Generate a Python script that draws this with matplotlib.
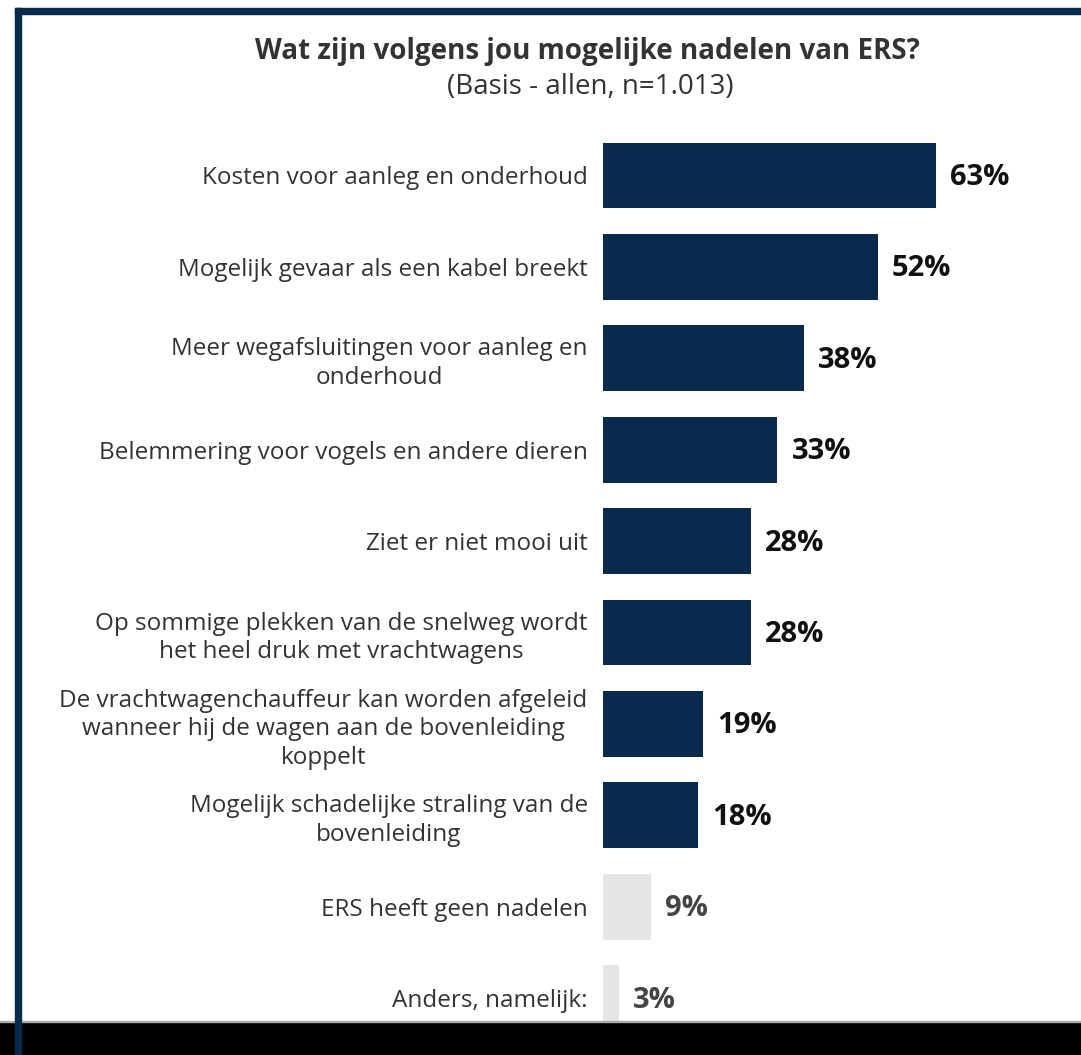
import matplotlib
matplotlib.use("Agg")
import matplotlib.pyplot as plt
from matplotlib.patches import Rectangle

plt.rcParams['font.family'] = ['Open Sans', 'DejaVu Sans']

categories = [
    "Kosten voor aanleg en onderhoud",
    "Mogelijk gevaar als een kabel breekt",
    "Meer wegafsluitingen voor aanleg en\nonderhoud",
    "Belemmering voor vogels en andere dieren",
    "Ziet er niet mooi uit",
    "Op sommige plekken van de snelweg wordt\nhet heel druk met vrachtwagens",
    "De vrachtwagenchauffeur kan worden afgeleid\nwanneer hij de wagen aan de bovenleiding\nkoppelt",
    "Mogelijk schadelijke straling van de\nbovenleiding",
    "ERS heeft geen nadelen",
    "Anders, namelijk:",
]
values = [63, 52, 38, 33, 28, 28, 19, 18, 9, 3]
highlight = [True] * 8 + [False] * 2

navy = '#082A4D'
grey = '#E6E6E6'
text_col = '#333333'

W, H = 1081, 1055
fig = plt.figure(figsize=(W / 100, H / 100), dpi=100)
fig.patch.set_facecolor('white')

# frame and bottom band
fig.patches.append(Rectangle((0, 0), 1, 33 / H, transform=fig.transFigure,
                             color='black', zorder=0))
fig.patches.append(Rectangle((0, 33 / H), 1, 1.5 / H, transform=fig.transFigure,
                             color='#AAAAAA', zorder=0))
fig.patches.append(Rectangle((15 / W, 0), 6 / W, 1 - 8 / H, transform=fig.transFigure,
                             color=navy, zorder=1))
fig.patches.append(Rectangle((15 / W, 1 - 14 / H), 1 - 15 / W, 6 / H,
                             transform=fig.transFigure, color=navy, zorder=1))

px_per = 5.286
step = 91.4
ax_left, ax_right = 603, 1070
ax_top, ax_bot = 130, 1055
ax = fig.add_axes([ax_left / W, 1 - ax_bot / H, (ax_right - ax_left) / W,
                   (ax_bot - ax_top) / H])
ax.patch.set_alpha(0)

y = list(range(len(categories)))
colors = [navy if h else grey for h in highlight]
ax.barh(y, values, height=0.72, color=colors, zorder=2)

ax.set_xlim(0, (ax_right - ax_left) / px_per)
ax.set_ylim((ax_bot - 175.5) / step, -(175.5 - ax_top) / step)

ax.set_yticks(y)
ax.set_yticklabels(categories, fontsize=17.5, color=text_col, ha='right',
                   multialignment='center', linespacing=1.25)
ax.tick_params(axis='y', length=0, pad=11)
ax.set_xticks([])
for s in ax.spines.values():
    s.set_visible(False)

for yi, v, h in zip(y, values, highlight):
    ax.annotate(f"{v}%", (v, yi), xytext=(14, -2), textcoords='offset pixels',
                va='center', ha='left', fontsize=21, fontweight='bold',
                color='#111111' if h else '#444444')

fig.text(587 / W, 1 - 52 / H, "Wat zijn volgens jou mogelijke nadelen van ERS?",
         ha='center', va='center', fontsize=20, fontweight='bold', color=text_col)
fig.text(590 / W, 1 - 87 / H, "(Basis - allen, n=1.013)",
         ha='center', va='center', fontsize=20, color=text_col)

fig.savefig("out.png", dpi=100)
